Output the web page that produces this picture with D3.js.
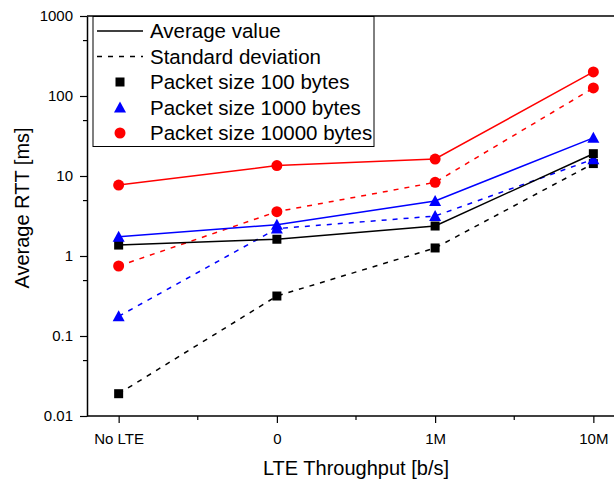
<!DOCTYPE html>
<html>
<head>
<meta charset="utf-8">
<script src="https://cdn.jsdelivr.net/npm/d3@7"></script>
<style>
  body { margin: 0; background: #fff; }
  svg text { font-family: "Liberation Sans", Arial, sans-serif; fill: #000; }
</style>
</head>
<body>
<div id="chart"></div>
<script>
// Data
const categories = ['No LTE', '0', '1M', '10M'];
const yTicks = [0.01, 0.1, 1, 10, 100, 1000];

const avg100 = [1.37, 1.62, 2.37, 19];
const std100 = [0.019, 0.316, 1.26, 14.3];
const avg1000 = [1.74, 2.46, 4.87, 30];
const std1000 = [0.176, 2.2, 3.16, 16.2];
const avg10000 = [7.7, 13.5, 16.3, 200];
const std10000 = [0.75, 3.58, 8.33, 126];

const seriesList = [
    {values: std100, color: '#000', shape: 'square', dashed: true},
    {values: std1000, color: '#0000ff', shape: 'triangle', dashed: true},
    {values: std10000, color: '#ff0000', shape: 'circle', dashed: true},
    {values: avg100, color: '#000', shape: 'square', dashed: false},
    {values: avg1000, color: '#0000ff', shape: 'triangle', dashed: false},
    {values: avg10000, color: '#ff0000', shape: 'circle', dashed: false}
];

const width = 614, height = 482;
const margin = {top: 16, right: -11, bottom: 66, left: 87};

const svg = d3.select('#chart')
    .append('svg')
    .attr('width', width)
    .attr('height', height);

// Scales
const x = d3.scalePoint()
    .domain(categories)
    .range([margin.left, width - margin.right])
    .padding(0.2);

const y = d3.scaleLog()
    .domain([0.01, 1000])
    .range([height - margin.bottom, margin.top]);

// Plot frame (top)
svg.append('line')
    .attr('x1', margin.left).attr('x2', width - margin.right)
    .attr('y1', margin.top).attr('y2', margin.top)
    .attr('stroke', '#000').attr('stroke-width', 1.5);

// Y axis
const yAxis = svg.append('g')
    .attr('transform', `translate(${margin.left},0)`)
    .call(d3.axisLeft(y).tickValues(yTicks).tickFormat(d => String(d)).tickSize(7).tickSizeOuter(0));
yAxis.select('.domain').attr('stroke-width', 1.5);
yAxis.selectAll('.tick line').attr('stroke-width', 1.2);
yAxis.selectAll('text').style('font-size', '15px').attr('x', -14);

// Y minor ticks at 5 x 10^n
const yMinor = yTicks.slice(0, -1).map(d => d * 5);
svg.append('g')
    .attr('transform', `translate(${margin.left},0)`)
    .call(d3.axisLeft(y).tickValues(yMinor).tickFormat('').tickSize(4).tickSizeOuter(0))
    .call(g => g.select('.domain').remove())
    .selectAll('.tick line').attr('stroke-width', 1.2);

// X axis
const xAxis = svg.append('g')
    .attr('transform', `translate(0,${height - margin.bottom})`)
    .call(d3.axisBottom(x).tickSize(7).tickSizeOuter(0));
xAxis.select('.domain').attr('stroke-width', 1.5)
    .attr('d', `M${margin.left},0H${width - margin.right}`);
xAxis.selectAll('.tick line').attr('stroke-width', 1.2);
xAxis.selectAll('text').style('font-size', '15px').attr('y', 17);

// X minor ticks halfway between categories
const step = x.step();
const xMinor = categories.slice(0, -1).map(c => x(c) + step / 2);
svg.append('g')
    .selectAll('line')
    .data(xMinor)
    .enter()
    .append('line')
    .attr('x1', d => d).attr('x2', d => d)
    .attr('y1', height - margin.bottom)
    .attr('y2', height - margin.bottom + 4)
    .attr('stroke', '#000').attr('stroke-width', 1.2);

// Axis titles
svg.append('text')
    .attr('x', 356).attr('y', 475)
    .attr('text-anchor', 'middle')
    .style('font-size', '20px')
    .text('LTE Throughput [b/s]');

svg.append('text')
    .attr('transform', `translate(29,208) rotate(-90)`)
    .attr('text-anchor', 'middle')
    .style('font-size', '20px')
    .text('Average RTT [ms]');

// Marker drawing
function drawMarker(g, shape, color) {
    if (shape === 'square') {
        g.append('rect').attr('x', -4.5).attr('y', -4.5).attr('width', 9).attr('height', 9).attr('fill', color);
    } else if (shape === 'triangle') {
        g.append('path').attr('d', 'M0,-6L6,5L-6,5Z').attr('fill', color);
    } else {
        g.append('circle').attr('r', 5.5).attr('fill', color);
    }
}

// Lines
const line = d3.line()
    .x((d, i) => x(categories[i]))
    .y(d => y(d));

seriesList.forEach(s => {
    svg.append('path')
        .datum(s.values)
        .attr('d', line)
        .attr('fill', 'none')
        .attr('stroke', s.color)
        .attr('stroke-width', 1.5)
        .attr('stroke-dasharray', s.dashed ? '5,6' : null);
});

// Markers
seriesList.forEach(s => {
    s.values.forEach((v, i) => {
        const g = svg.append('g')
            .attr('transform', `translate(${x(categories[i])},${y(v)})`);
        drawMarker(g, s.shape, s.color);
    });
});

// Legend
const legend = svg.append('g');
legend.append('rect')
    .attr('x', 93).attr('y', 16.5)
    .attr('width', 281).attr('height', 130)
    .attr('fill', '#fff')
    .attr('stroke', '#000').attr('stroke-width', 1);

const legendItems = [
    {label: 'Average value', type: 'line', dashed: false},
    {label: 'Standard deviation', type: 'line', dashed: true},
    {label: 'Packet size 100 bytes', type: 'marker', shape: 'square', color: '#000'},
    {label: 'Packet size 1000 bytes', type: 'marker', shape: 'triangle', color: '#0000ff'},
    {label: 'Packet size 10000 bytes', type: 'marker', shape: 'circle', color: '#ff0000'}
];

legendItems.forEach((item, i) => {
    const base = 38 + i * 25.5;
    const cy = base - 7;
    if (item.type === 'line') {
        legend.append('line')
            .attr('x1', 97).attr('x2', 143)
            .attr('y1', cy).attr('y2', cy)
            .attr('stroke', '#000').attr('stroke-width', 1.5)
            .attr('stroke-dasharray', item.dashed ? '5,6' : null);
    } else {
        const g = legend.append('g').attr('transform', `translate(120,${cy})`);
        drawMarker(g, item.shape, item.color);
    }
    legend.append('text')
        .attr('x', 150).attr('y', base)
        .style('font-size', '20.5px')
        .text(item.label);
});
</script>
</body>
</html>
